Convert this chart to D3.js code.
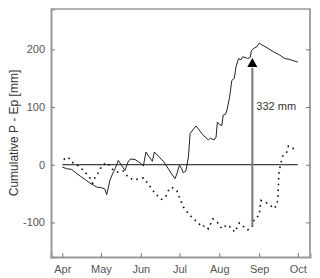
<!DOCTYPE html>
<html>
<head>
<meta charset="utf-8">
<script src="https://d3js.org/d3.v7.min.js"></script>
<style>
body { margin: 0; background: #fff; }
svg { font-family: "Liberation Sans", Arial, sans-serif; }
.tick text { fill: #555; font-size: 11px; }
</style>
</head>
<body>
<svg id="chart"></svg>
<script>
// days counted from 1 April
var solidDays = [0,3.4,7,10,14,18,21.5,24,27,30.6,33,34.5,37,39,41,43.5,46,48.7,51,53,56.5,60,63,65,67,70,71.5,74.6,78.5,82.4,85,87.6,89,91,92.8,94,96,98,99.3,102,104,105.8,108.4,111,113.5,115,118,119.5,120.5,122,124,125,127,128,130,131.7,133.7,135,137,138.7,140,142,144,146,147,149,151,153,155,159,164,169,173,176,180,183];
var solidVals = [-4,-7,-8,-13,-20,-26,-32,-35,-39,-40,-42,-52,-27,-16,-7,7.5,-1,-10,4.6,10,9,4,-2,22,15,6,22,15,6,-7,-16,-24,-16,-1,-7,-14,-11,13,54,62,67,62,54,48,43,46,43,48,74,70,68,86,88,95,117,146,150,170,184,182,187,186,184,186,198,202,204,211,208,203,196,190,184,183,180,178];

var dotDays = [1,4.7,7,11,15,18,21,23.6,25,28,31,35,37,39.7,43.5,47.4,51,55,59,63,65.6,69.5,73,77,80,82.4,85,89,91.5,94,98,102,105.8,108.4,111,113.5,117,120.5,124,128,131.7,134,137.6,140.7,144,147.3,148.5,149.5,153,153.7,154.3,157.6,161.5,164,166.7,167.5,168.5,169.8,170.6,171.9,174.5,175.7,178.8,181];
var dotVals = [9,13,5,0.5,-7,-14,-21,-32,-24,-14,-1,3.5,-2,-10,-13,-11,-21,-26,-25,-23,-30,-42,-52,-60,-57,-45,-39,-45,-59,-73,-85,-94,-101,-108,-105,-111,-94,-100,-111,-104,-110,-117,-101,-107,-113,-109,-100,-93,-88,-73,-62,-65,-69,-76,-71,-58,-10,0.5,11,18,22,32,30.5,22];

var monthLabels = ["Apr","May","Jun","Jul","Aug","Sep","Oct"];
var yTicks = [-100, 0, 100, 200];
var arrowDay = 147.7, arrowFrom = -108, arrowTo = 185;
var arrowText = "332 mm";

var W = 320, H = 278;
var margin = {left: 51, top: 9, right: 10, bottom: 21};
var w = W - margin.left - margin.right, h = H - margin.top - margin.bottom;

var start = Date.UTC(2000, 3, 1);
function toDate(d) { return new Date(start + d * 864e5); }

var x = d3.scaleUtc()
    .domain([toDate(-8.8), toDate(192.5)])
    .range([0, w]);
var y = d3.scaleLinear().domain([-160, 270]).range([h, 0]);

var svg = d3.select("#chart").attr("width", W).attr("height", H);
var g = svg.append("g").attr("transform", "translate(" + margin.left + "," + margin.top + ")");

// frame top/right
g.append("path")
    .attr("d", "M0,0H" + w + "V" + h)
    .attr("fill", "none").attr("stroke", "#666").attr("stroke-width", 1.2);

var monthDates = monthLabels.map(function(m, i) { return new Date(Date.UTC(2000, 3 + i, 1)); });

var xAxis = g.append("g").attr("transform", "translate(0," + h + ")")
    .call(d3.axisBottom(x).tickValues(monthDates).tickSize(-4).tickPadding(8)
        .tickFormat(function(d, i) { return monthLabels[i]; }));
var yAxis = g.append("g")
    .call(d3.axisLeft(y).tickValues(yTicks).tickSize(-4).tickPadding(6)
        .tickFormat(function(d) { return String(d); }));
var yRight = g.append("g").attr("transform", "translate(" + w + ",0)")
    .call(d3.axisRight(y).tickValues(yTicks).tickSize(-4).tickFormat(""));

[xAxis, yAxis].forEach(function(a) {
  a.select(".domain").attr("stroke", "#999").attr("stroke-width", 2);
  a.selectAll(".tick line").attr("stroke", "#777");
});
yRight.select(".domain").remove();
yRight.selectAll(".tick line").attr("stroke", "#777");

// y label
svg.append("text")
    .attr("transform", "translate(18," + (margin.top + h / 2) + ") rotate(-90)")
    .attr("text-anchor", "middle")
    .attr("font-size", 12).attr("fill", "#333")
    .text("Cumulative P - Ep [mm]");

// zero line
g.append("line")
    .attr("x1", x(monthDates[0])).attr("x2", x(monthDates[6]))
    .attr("y1", y(0)).attr("y2", y(0))
    .attr("stroke", "#111").attr("stroke-width", 1);

var line = d3.line()
    .x(function(d) { return x(toDate(d[0])); })
    .y(function(d) { return y(d[1]); });

g.append("path")
    .datum(dotDays.map(function(d, i) { return [d, dotVals[i]]; }))
    .attr("d", line)
    .attr("fill", "none").attr("stroke", "#111")
    .attr("stroke-width", 1.6).attr("stroke-dasharray", "1.6,4.2");

g.append("path")
    .datum(solidDays.map(function(d, i) { return [d, solidVals[i]]; }))
    .attr("d", line)
    .attr("fill", "none").attr("stroke", "#222").attr("stroke-width", 1);

// arrow
var ax = x(toDate(arrowDay));
g.append("line")
    .attr("x1", ax).attr("x2", ax)
    .attr("y1", y(arrowFrom)).attr("y2", y(arrowTo) + 10)
    .attr("stroke", "#777").attr("stroke-width", 2);
g.append("path")
    .attr("d", "M" + ax + "," + y(arrowTo) + "L" + (ax - 5) + "," + (y(arrowTo) + 9) + "L" + (ax + 5) + "," + (y(arrowTo) + 9) + "Z")
    .attr("fill", "#000");
g.append("text")
    .attr("x", ax + 4).attr("y", y(95))
    .attr("font-size", 11).attr("fill", "#333")
    .text(arrowText);
</script>
</body>
</html>
